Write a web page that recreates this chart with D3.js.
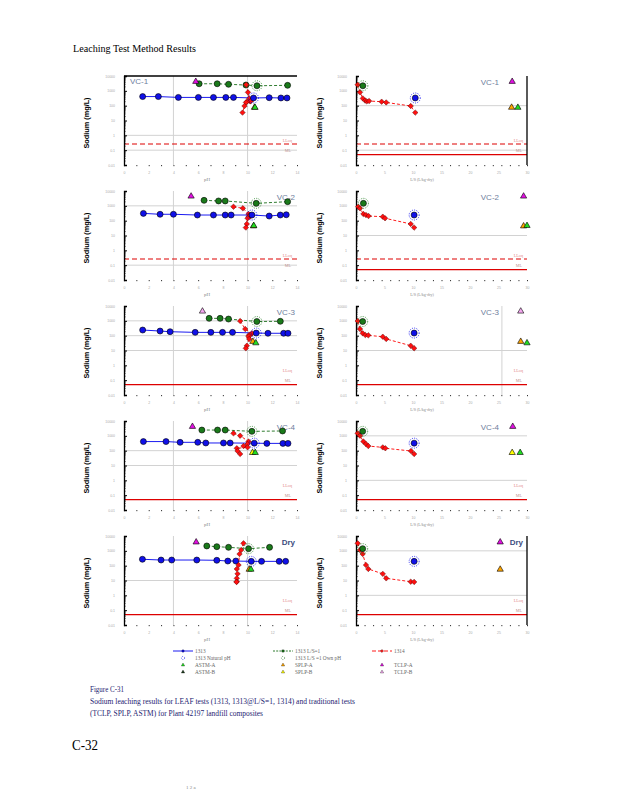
<!DOCTYPE html>
<html>
<head>
<meta charset="utf-8">
<script src="https://cdnjs.cloudflare.com/ajax/libs/d3/7.8.5/d3.min.js"></script>
<style>
  body { margin: 0; background: #fff; }
</style>
</head>
<body>
<div id="page"></div>
<script>
const panelNames = ["VC-1", "VC-2", "VC-3", "VC-4", "Dry"];

// 1313 - pH dependence, one row per panel
const ph1313 = [
  [1.51, 2.78, 4.40, 6.02, 7.24, 8.24, 8.86, 11.75, 12.70, 13.19],
  [1.57, 2.92, 4.00, 5.94, 7.24, 8.19, 8.67, 11.75, 12.65, 13.13],
  [1.51, 2.92, 3.73, 5.76, 7.03, 7.97, 8.78, 11.65, 12.92, 13.27],
  [1.57, 3.40, 4.54, 5.97, 6.62, 8.05, 8.59, 11.56, 12.86, 13.27],
  [1.49, 3.00, 3.86, 5.89, 7.51, 8.40, 9.05, 11.13, 12.56, 13.08]
];
const na1313 = [
  [410, 410, 360, 360, 360, 360, 360, 345, 330, 330],
  [310, 270, 270, 240, 240, 240, 240, 205, 240, 250],
  [240, 205, 185, 167, 167, 167, 167, 145, 145, 145],
  [410, 410, 365, 365, 330, 330, 330, 310, 310, 310],
  [270, 240, 240, 240, 230, 205, 205, 195, 195, 195]
];
// 1313 natural pH point
const phNat = [10.48, 10.35, 10.70, 10.54, 10.30];
const lsNat = [10.4, 10.2, 10.2, 10.2, 10.2];
const naNat = [330, 240, 150, 320, 195];

// 1313 at L/S=1
const phLS1 = [
  [6.08, 7.54, 8.46, 9.87, 13.24],
  [6.48, 7.65, 8.19, 13.24],
  [6.89, 7.78, 8.46, 12.65],
  [6.30, 7.57, 8.19, 12.83],
  [6.70, 7.51, 8.46, 11.78]
];
const naLS1 = [
  [3000, 3000, 2750, 2460, 2350],
  [2350, 2130, 2130, 1910],
  [1470, 1470, 1320, 930],
  [2460, 2460, 2460, 2130],
  [2130, 1910, 1720, 1720]
];
// 1313 at L/S=1, own pH
const phOwn = [10.76, 10.70, 10.75, 10.35, 10.08];
const lsOwn = [1.2, 1.3, 1.17, 1.17, 1.17];
const naOwn = [2200, 1470, 900, 2000, 1400];

// 1314 column test
const ls1314 = [
  [0.3, 0.7, 1.2, 1.6, 1.9, 2.3, 4.5, 5.3, 9.6, 10.4],
  [0.4, 0.7, 1.3, 1.75, 2.2, 4.7, 5.1, 9.6, 10.2],
  [0.3, 0.7, 1.17, 1.64, 2.16, 4.7, 5.3, 9.6, 10.2],
  [0.3, 0.7, 1.3, 1.75, 2.16, 4.7, 5.15, 9.65, 10.2],
  [0.3, 0.7, 1.17, 1.75, 2.16, 4.7, 5.3, 9.6, 10.2]
];
const na1314 = [
  [2600, 790, 310, 220, 195, 205, 185, 165, 95, 34],
  [870, 680, 280, 240, 205, 185, 145, 60, 34],
  [970, 280, 145, 110, 105, 85, 60, 21, 14],
  [1470, 1020, 410, 280, 205, 167, 145, 95, 60],
  [3200, 1140, 610, 110, 60, 28, 14, 8.3, 8]
];
const ph1314 = [
  [9.89, 10.03, 10.14, 10.30, 10.20, 10.25, 9.95, 9.87, 9.75, 9.59],
  [8.86, 9.62, 10.08, 10.20, 10.25, 10.10, 10.00, 9.94, 9.86],
  [9.40, 9.81, 10.35, 10.20, 10.10, 10.08, 10.13, 9.94, 9.86],
  [8.86, 9.40, 10.08, 10.00, 9.67, 10.00, 9.13, 9.19, 9.40],
  [9.67, 9.48, 9.35, 9.27, 9.13, 9.19, 9.13, 9.13, 9.10]
];

// single point tests (TCLP, SPLP, ASTM)
const triTests = [
  ["TCLP-A", "SPLP-A", "ASTM-A"],
  ["TCLP-A", "SPLP-A", "ASTM-A"],
  ["TCLP-B", "SPLP-A", "ASTM-A"],
  ["TCLP-A", "SPLP-B", "ASTM-A"],
  ["TCLP-A", "SPLP-A", "ASTM-A"]
];
const triPh = [
  [5.81, 10.56, 10.60],
  [5.43, 10.48, 10.50],
  [6.35, 10.43, 10.67],
  [5.54, 10.40, 10.62],
  [5.84, 10.13, 10.27]
];
const triLs = [
  [27.4, 27.3, 28.4],
  [29.4, 29.4, 30.0],
  [28.9, 28.9, 30.0],
  [27.5, 27.4, 28.8],
  [25.3, 25.3, null]
];
const triNa = [
  [4200, 76, 75],
  [4400, 43, 46],
  [4400, 40, 32],
  [4200, 73, 73],
  [3850, 56, 56]
];
const triColors = {
  "TCLP-A": "#e010e0", "TCLP-B": "#f5a8f0",
  "SPLP-A": "#ffa500", "SPLP-B": "#ffff00",
  "ASTM-A": "#22dd22", "ASTM-B": "#1c3a1c"
};

// reference lines
const gridLeft = [[1, 0.1], [1000, 0.1], [1000, 100, 10], [100, 10], [10]];
const gridRight = [[100, 0.1], [10], [10], [1000, 1], [1000, 1]];
const vgridLeft = [4, 10];
const vgridRight = [[], [], [25.6], [], []];
const loqLeft = [true, true, false, false, false];
const loqRight = [true, true, false, false, false];
const mlLeft = [false, false, true, true, true];
const loqValue = 0.26;
const mlValue = 0.05;

const yTicks = [10000, 1000, 100, 10, 1, 0.1, 0.01];
const yTickLabels = ["10000", "1000", "100", "10", "1", "0.1", "0.01"];
const phTicks = [0, 2, 4, 6, 8, 10, 12, 14];
const lsTicks = [0, 5, 10, 15, 20, 25, 30];

const svg = d3.select("#page").append("svg").attr("width", 618).attr("height", 800)
  .style("font-family", "'Liberation Serif', serif");

// page texts
svg.append("text").attr("x", 73).attr("y", 52).attr("font-size", 10.5)
  .attr("textLength", 123).attr("lengthAdjust", "spacingAndGlyphs")
  .text("Leaching Test Method Results");

const rowTop = (i) => 76 + 115 * i;
const xL = d3.scaleLinear().domain([0, 14]).range([124, 297]);
const xR = d3.scaleLinear().domain([0, 30]).range([356, 527]);

const sym = (type, size) => d3.symbol().type(type).size(size)();

function drawPanel(i, side) {
  const top = rowTop(i);
  const y = d3.scaleLog().domain([0.01, 10000]).range([top + 89, top]);
  const x = side === "L" ? xL : xR;
  const g = svg.append("g");
  const x0 = x.range()[0], x1 = x.range()[1];

  // gray grid lines
  const hg = side === "L" ? gridLeft[i] : gridRight[i];
  g.selectAll(".hg").data(hg).enter().append("line")
    .attr("x1", x0).attr("x2", x1)
    .attr("y1", (d) => y(d)).attr("y2", (d) => y(d))
    .attr("stroke", "#d2d2d2").attr("stroke-width", 1);
  const vg = side === "L" ? vgridLeft : vgridRight[i];
  g.selectAll(".vg").data(vg).enter().append("line")
    .attr("x1", (d) => x(d)).attr("x2", (d) => x(d))
    .attr("y1", top).attr("y2", top + 89)
    .attr("stroke", "#d2d2d2").attr("stroke-width", 1);

  // LOQ / ML lines
  if ((side === "L" && loqLeft[i]) || (side === "R" && loqRight[i])) {
    g.append("line").attr("x1", x0).attr("x2", x1)
      .attr("y1", y(loqValue)).attr("y2", y(loqValue))
      .attr("stroke", "#dd0000").attr("stroke-width", 1).attr("stroke-dasharray", "5,3");
  }
  if (side === "R" || mlLeft[i]) {
    g.append("line").attr("x1", x0).attr("x2", x1)
      .attr("y1", y(mlValue)).attr("y2", y(mlValue))
      .attr("stroke", "#dd0000").attr("stroke-width", 1.1);
  }
  const labX = side === "L" ? 292 : 523;
  g.append("text").attr("x", labX).attr("y", y(0.43) + 1.5).attr("text-anchor", "end")
    .attr("font-size", 4.2).attr("fill", "#e48a8a").text("LLoq");
  g.append("text").attr("x", labX - 1).attr("y", y(0.1) + 1.5).attr("text-anchor", "end")
    .attr("font-size", 4.2).attr("fill", "#c09090").text("ML");

  // y axis (log, minor ticks inside)
  const minor = [];
  for (let e = -2; e < 4; e++) for (let m = 2; m < 10; m++) minor.push(m * Math.pow(10, e));
  g.append("g").attr("transform", `translate(${x0},0)`)
    .call(d3.axisLeft(y).tickValues(minor).tickSize(-1.5).tickFormat(""))
    .call((a) => a.select(".domain").remove())
    .selectAll("line").attr("stroke", "#000").attr("stroke-width", 0.8);
  g.append("g").attr("transform", `translate(${x0},0)`)
    .call(d3.axisLeft(y).tickValues(yTicks).tickSize(-3).tickPadding(9).tickFormat((d, k) => yTickLabels[k]))
    .call((a) => a.select(".domain").attr("stroke", "#000").attr("stroke-width", 1.3))
    .call((a) => a.selectAll("line").attr("stroke", "#000").attr("stroke-width", 1))
    .call((a) => a.selectAll("text").attr("font-size", 3.5).attr("fill", "#aaa"));

  // x axis: dotted minor ticks + tiny labels
  const xt = side === "L" ? phTicks : lsTicks;
  const xminor = side === "L" ? d3.range(0, 14.01, 1) : d3.range(0, 30.01, 1.5);
  g.append("g").attr("transform", `translate(0,${top + 89})`)
    .call(d3.axisBottom(x).tickValues(xminor).tickSize(1.2).tickFormat(""))
    .call((a) => a.select(".domain").remove())
    .selectAll("line").attr("stroke", "#000").attr("stroke-width", 0.8);
  g.append("g").attr("transform", `translate(0,${top + 89})`)
    .call(d3.axisBottom(x).tickValues(xt).tickSize(0).tickPadding(7))
    .call((a) => a.select(".domain").remove())
    .call((a) => a.selectAll("text").attr("font-size", 3.5).attr("fill", "#aaa"));
  g.append("text").attr("x", side === "L" ? 207 : 422).attr("y", top + 105)
    .attr("text-anchor", "middle").attr("font-size", side === "L" ? 5 : 4)
    .attr("fill", "#888").text(side === "L" ? "pH" : "L/S (L/kg-dry)");

  // frame pieces
  if (side === "L" && i === 0) {
    g.append("line").attr("x1", x0).attr("x2", x1).attr("y1", top).attr("y2", top)
      .attr("stroke", "#000").attr("stroke-width", 1.3);
  }
  if (side === "R" && (i === 0 || i === 4)) {
    g.append("line").attr("x1", x1).attr("x2", x1).attr("y1", top).attr("y2", top + 89)
      .attr("stroke", "#000").attr("stroke-width", 1.3);
  }

  // y axis title
  g.append("text")
    .attr("transform", `translate(${side === "L" ? 89 : 322},${top + 47}) rotate(-90)`)
    .attr("text-anchor", "middle").attr("font-family", "'Liberation Sans', Arial, sans-serif")
    .attr("font-weight", "bold").attr("font-size", 7.3).text("Sodium (mg/L)");

  // panel label
  const name = panelNames[i];
  const lab = g.append("text").attr("font-family", "'Liberation Sans', Arial, sans-serif")
    .attr("font-size", 8).attr("fill", name === "Dry" ? "#3d4d80" : "#6e7d9c")
    .attr("font-weight", name === "Dry" ? "bold" : "normal").text(name);
  if (side === "L" && i === 0) lab.attr("x", 130).attr("y", top + 8);
  else if (side === "L") lab.attr("x", 295).attr("y", top + 9).attr("text-anchor", "end");
  else lab.attr("x", name === "Dry" ? 523 : 499).attr("y", top + 9).attr("text-anchor", "end");

  const plot = g.append("g");

  // 1313 series
  if (side === "L") {
    const pts = ph1313[i].map((p, k) => [p, na1313[i][k]]).concat([[phNat[i], naNat[i]]])
      .sort((a, b) => a[0] - b[0]);
    plot.append("path").datum(pts)
      .attr("d", d3.line().x((d) => x(d[0])).y((d) => y(d[1])))
      .attr("fill", "none").attr("stroke", "#0000ee").attr("stroke-width", 0.9);
    plot.selectAll(".b").data(ph1313[i]).enter().append("circle")
      .attr("cx", (d) => x(d)).attr("cy", (d, k) => y(na1313[i][k])).attr("r", 3)
      .attr("fill", "#1010e8").attr("stroke", "#000").attr("stroke-width", 0.6);

    // L/S=1 series
    const gp = phLS1[i].map((p, k) => [p, naLS1[i][k]]).concat([[phOwn[i], naOwn[i]]])
      .sort((a, b) => a[0] - b[0]);
    plot.append("path").datum(gp)
      .attr("d", d3.line().x((d) => x(d[0])).y((d) => y(d[1])))
      .attr("fill", "none").attr("stroke", "#1a6e1a").attr("stroke-width", 0.9)
      .attr("stroke-dasharray", "3,2");
    plot.selectAll(".gr").data(phLS1[i]).enter().append("circle")
      .attr("cx", (d) => x(d)).attr("cy", (d, k) => y(naLS1[i][k])).attr("r", 3)
      .attr("fill", "#1a7a1a").attr("stroke", "#000").attr("stroke-width", 0.6);
  }

  // 1314 series
  const rx = side === "L" ? ph1314[i] : ls1314[i];
  const rp = rx.map((v, k) => [v, na1314[i][k]]);
  plot.append("path").datum(rp)
    .attr("d", d3.line().x((d) => x(d[0])).y((d) => y(d[1])))
    .attr("fill", "none").attr("stroke", "#ff0000").attr("stroke-width", 0.9)
    .attr("stroke-dasharray", "3,2");
  plot.selectAll(".r").data(rp).enter().append("path")
    .attr("d", sym(d3.symbolSquare, 15))
    .attr("transform", (d) => `translate(${x(d[0])},${y(d[1])}) rotate(45)`)
    .attr("fill", "#ff1010").attr("stroke", "#400").attr("stroke-width", 0.4);

  // natural pH / own pH points with dotted rings
  const nx = side === "L" ? phNat[i] : lsNat[i];
  const ox = side === "L" ? phOwn[i] : lsOwn[i];
  plot.append("circle").attr("cx", x(ox)).attr("cy", y(naOwn[i])).attr("r", 5)
    .attr("fill", "none").attr("stroke", "#1a7a1a").attr("stroke-width", 0.8)
    .attr("stroke-dasharray", "1,1.3");
  plot.append("circle").attr("cx", x(ox)).attr("cy", y(naOwn[i])).attr("r", 3)
    .attr("fill", "#1a7a1a").attr("stroke", "#000").attr("stroke-width", 0.6);
  plot.append("circle").attr("cx", x(nx)).attr("cy", y(naNat[i])).attr("r", 5)
    .attr("fill", "none").attr("stroke", "#0000ee").attr("stroke-width", 0.8)
    .attr("stroke-dasharray", "1,1.3");
  plot.append("circle").attr("cx", x(nx)).attr("cy", y(naNat[i])).attr("r", 3)
    .attr("fill", "#1010e8").attr("stroke", "#000").attr("stroke-width", 0.6);

  // triangles
  const tx = side === "L" ? triPh[i] : triLs[i];
  const tri = triTests[i].map((t, k) => ({ t, xv: tx[k], v: triNa[i][k] })).filter((d) => d.xv != null);
  plot.selectAll(".t").data(tri).enter().append("path")
    .attr("d", sym(d3.symbolTriangle, 17))
    .attr("transform", (d) => `translate(${x(d.xv)},${y(d.v)})`)
    .attr("fill", (d) => triColors[d.t]).attr("stroke", "#000").attr("stroke-width", 0.6);
}

for (let i = 0; i < 5; i++) {
  drawPanel(i, "L");
  drawPanel(i, "R");
}

// legend
const legend = svg.append("g").attr("font-size", 5.3).attr("fill", "#666");
const legCols = [173, 273, 372];
const legRows = [651, 658, 665, 672];
const legItems = [
  { c: 0, r: 0, label: "1313", line: "#0000ee", dash: null, mark: "circle", fill: "#1010e8" },
  { c: 0, r: 1, label: "1313 Natural pH", ring: "#0000ee" },
  { c: 0, r: 2, label: "ASTM-A", tri: "ASTM-A" },
  { c: 0, r: 3, label: "ASTM-B", tri: "ASTM-B" },
  { c: 1, r: 0, label: "1313  L/S=1", line: "#1a6e1a", dash: "2,1.2", mark: "square", fill: "#1a7a1a" },
  { c: 1, r: 1, label: "1313  L/S =1 Own pH", ring: "#1a6e1a" },
  { c: 1, r: 2, label: "SPLP-A", tri: "SPLP-A" },
  { c: 1, r: 3, label: "SPLP-B", tri: "SPLP-B" },
  { c: 2, r: 0, label: "1314", line: "#ff0000", dash: "4,2", mark: "diamond", fill: "#ff1010" },
  { c: 2, r: 2, label: "TCLP-A", tri: "TCLP-A" },
  { c: 2, r: 3, label: "TCLP-B", tri: "TCLP-B" }
];
legItems.forEach((d) => {
  const lx = legCols[d.c], ly = legRows[d.r];
  const mx = lx + 10;
  if (d.line) {
    legend.append("line").attr("x1", lx).attr("x2", lx + 20).attr("y1", ly).attr("y2", ly)
      .attr("stroke", d.line).attr("stroke-width", 0.9).attr("stroke-dasharray", d.dash);
    const s = d.mark === "circle" ? d3.symbolCircle : d3.symbolSquare;
    legend.append("path").attr("d", sym(s, 5))
      .attr("transform", `translate(${mx},${ly})${d.mark === "diamond" ? " rotate(45)" : ""}`)
      .attr("fill", d.fill).attr("stroke", "#000").attr("stroke-width", 0.3);
  } else if (d.ring) {
    legend.append("circle").attr("cx", mx).attr("cy", ly).attr("r", 1.6)
      .attr("fill", "none").attr("stroke", d.ring).attr("stroke-width", 0.7)
      .attr("stroke-dasharray", "0.8,1.2");
  } else if (d.tri) {
    legend.append("path").attr("d", sym(d3.symbolTriangle, 5))
      .attr("transform", `translate(${mx},${ly})`)
      .attr("fill", triColors[d.tri]).attr("stroke", "#000").attr("stroke-width", 0.3);
  }
  legend.append("text").attr("x", lx + 22).attr("y", ly + 1.8).text(d.label);
});

// caption
const caption = svg.append("g").attr("fill", "#1c2270").attr("font-size", 9);
caption.append("text").attr("x", 90).attr("y", 692)
  .attr("textLength", 34).attr("lengthAdjust", "spacingAndGlyphs").text("Figure C-31");
caption.append("text").attr("x", 90).attr("y", 704)
  .attr("textLength", 265).attr("lengthAdjust", "spacingAndGlyphs")
  .text("Sodium leaching results for LEAF tests (1313, 1313@L/S=1, 1314) and traditional tests");
caption.append("text").attr("x", 90).attr("y", 716)
  .attr("textLength", 173).attr("lengthAdjust", "spacingAndGlyphs")
  .text("(TCLP, SPLP, ASTM) for Plant 42197 landfill composites");

svg.append("text").attr("x", 72).attr("y", 750).attr("font-size", 15)
  .attr("textLength", 26).attr("lengthAdjust", "spacingAndGlyphs").text("C-32");
svg.append("text").attr("x", 186).attr("y", 789).attr("font-size", 5).attr("fill", "#888")
  .text("1    2    a");
</script>
</body>
</html>
